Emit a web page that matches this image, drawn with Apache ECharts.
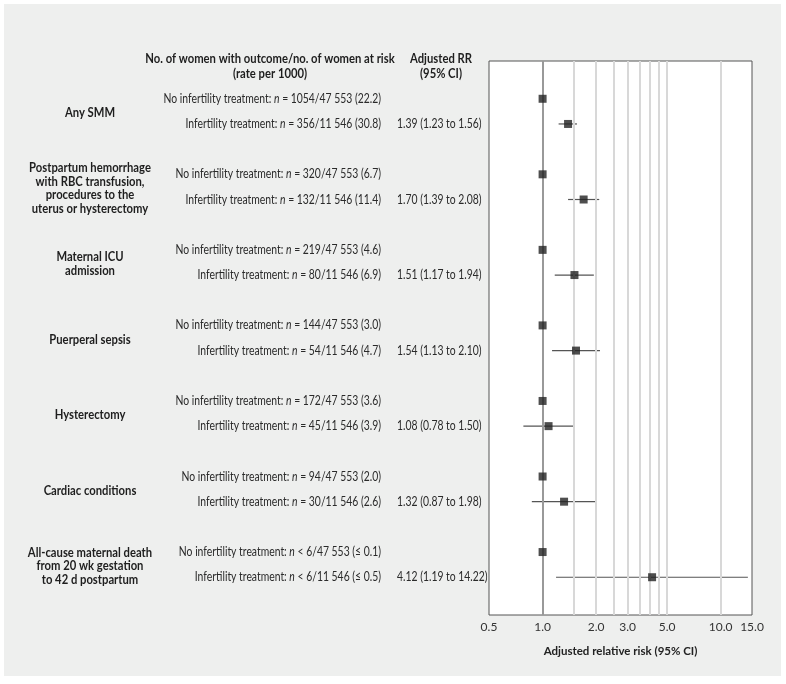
<!DOCTYPE html>
<html>
<head>
<meta charset="utf-8">
<script src="https://cdn.jsdelivr.net/npm/echarts@6/dist/echarts.min.js"></script>
<style>
html,body{margin:0;padding:0;background:#fff;}
#wrap{position:absolute;left:4px;top:4px;width:777px;height:672px;background:#eeefee;}
#chart{position:absolute;left:0;top:0;width:786px;height:684px;}
</style>
</head>
<body>
<div id="wrap"></div>
<div id="chart"></div>
<script>
const outcomes = ['Any SMM',
  'Postpartum hemorrhage\nwith RBC transfusion,\nprocedures to the\nuterus or hysterectomy',
  'Maternal ICU\nadmission',
  'Puerperal sepsis',
  'Hysterectomy',
  'Cardiac conditions',
  'All-cause maternal death\nfrom 20 wk gestation\nto 42 d postpartum'];
const noTreatmentCounts = ['= 1054/47 553 (22.2)', '= 320/47 553 (6.7)', '= 219/47 553 (4.6)', '= 144/47 553 (3.0)', '= 172/47 553 (3.6)', '= 94/47 553 (2.0)', '< 6/47 553 (≤ 0.1)'];
const treatmentCounts = ['= 356/11 546 (30.8)', '= 132/11 546 (11.4)', '= 80/11 546 (6.9)', '= 54/11 546 (4.7)', '= 45/11 546 (3.9)', '= 30/11 546 (2.6)', '< 6/11 546 (≤ 0.5)'];
const referenceRR = [1, 1, 1, 1, 1, 1, 1];
const adjustedRR = [1.39, 1.70, 1.51, 1.54, 1.08, 1.32, 4.12];
const ciLow = [1.23, 1.39, 1.17, 1.13, 0.78, 0.87, 1.19];
const ciHigh = [1.56, 2.08, 1.94, 2.10, 1.50, 1.98, 14.22];
const axisTickValues = [0.5, 1, 2, 3, 5, 10, 15];
const gridValues = [1.5, 2, 2.5, 3, 3.5, 4, 4.5, 5, 10];

const FONT = 'Lato';
const FS = 12.5;      // regular text size
const SX = 0.83;      // horizontal compression of regular text
const FB = 12.5;      // bold text size
const SXB = 0.9;      // horizontal compression of bold text
const rowsNo = outcomes.map((_, i) => 1.5 + 3 * i);
const rowsTx = outcomes.map((_, i) => 2.5 + 3 * i);

const chart = echarts.init(document.getElementById('chart'), null, {renderer: 'canvas'});

const option = {
  backgroundColor: 'transparent',
  animation: false,
  grid: {left: 489, right: 34, top: 61, bottom: 69, show: true, backgroundColor: '#fff', borderColor: '#555', borderWidth: 1},
  xAxis: {
    type: 'log', logBase: 10, min: 0.5, max: 15,
    axisLine: {show: false}, axisTick: {show: false}, splitLine: {show: false},
    axisLabel: {customValues: axisTickValues, formatter: v => Number(v).toFixed(1), color: '#333', fontFamily: FONT, fontSize: 12, margin: 6},
    name: 'Adjusted relative risk (95% CI)', nameLocation: 'middle', nameGap: 30,
    nameTextStyle: {fontFamily: FONT, fontWeight: 'bold', fontSize: 11.5, color: '#222'}
  },
  yAxis: {type: 'value', min: 0, max: 22, inverse: true, show: false},
  series: [
    {
      type: 'line', data: [], silent: true, z: 1,
      markLine: {
        silent: true, symbol: 'none', label: {show: false},
        data: gridValues.map(v => ({xAxis: v})),
        lineStyle: {color: '#d8d8d8', width: 2, type: 'solid'}
      }
    },
    {
      type: 'line', data: [], silent: true, z: 1,
      markLine: {
        silent: true, symbol: 'none', label: {show: false},
        data: [{xAxis: 1}],
        lineStyle: {color: '#999', width: 2, type: 'solid'}
      }
    },
    {
      type: 'custom', silent: true, z: 3,
      data: adjustedRR.map((v, i) => [ciLow[i], ciHigh[i], rowsTx[i]]),
      renderItem: (params, api) => {
        const a = api.coord([api.value(0), api.value(2)]);
        const b = api.coord([api.value(1), api.value(2)]);
        return {type: 'line', shape: {x1: a[0], y1: a[1], x2: b[0], y2: b[1]}, style: {stroke: '#555', lineWidth: 1.2}};
      },
      encode: {x: [0, 1], y: 2}
    },
    {
      type: 'scatter', symbol: 'rect', symbolSize: 8, silent: true, z: 5,
      itemStyle: {color: '#222'},
      data: referenceRR.map((v, i) => [v, rowsNo[i]])
    },
    {
      type: 'scatter', symbol: 'rect', symbolSize: 8, silent: true, z: 5,
      itemStyle: {color: '#222'},
      data: adjustedRR.map((v, i) => [v, rowsTx[i]])
    },
    {
      type: 'custom', silent: true, clip: false,
      data: outcomes.map((o, i) => [rowsNo[i], rowsTx[i]]),
      encode: {y: [0, 1]},
      renderItem: (params, api) => {
        const i = params.dataIndex;
        const yNo = api.coord([1, api.value(0)])[1];
        const yTx = api.coord([1, api.value(1)])[1];
        const rich = {i: {fontStyle: 'italic', fontFamily: FONT, fontSize: FS, fill: '#2a2a2a'}};
        const base = {fontFamily: FONT, fontSize: FS, fill: '#2a2a2a', x: 0, y: 0, verticalAlign: 'middle'};
        return {type: 'group', children: [
          {type: 'text', x: 90, y: (yNo + yTx) / 2 + 1.5, scaleX: SXB,
            style: {text: outcomes[i], x: 0, y: 0, align: 'center', verticalAlign: 'middle', fontFamily: FONT, fontSize: FB, fontWeight: 'bold', fill: '#1e1e1e', lineHeight: 13.5}},
          {type: 'text', x: 381, y: yNo, scaleX: SX,
            style: Object.assign({}, base, {text: 'No infertility treatment: {i|n} ' + noTreatmentCounts[i], align: 'right', rich: rich})},
          {type: 'text', x: 381, y: yTx, scaleX: SX,
            style: Object.assign({}, base, {text: 'Infertility treatment: {i|n} ' + treatmentCounts[i], align: 'right', rich: rich})},
          {type: 'text', x: 397, y: yTx, scaleX: SX,
            style: Object.assign({}, base, {text: adjustedRR[i].toFixed(2) + ' (' + ciLow[i].toFixed(2) + ' to ' + ciHigh[i].toFixed(2) + ')', align: 'left'})}
        ]};
      }
    }
  ],
  graphic: [
    {type: 'text', x: 270, y: 51, scaleX: SXB, style: {text: 'No. of women with outcome/no. of women at risk\n(rate per 1000)', x: 0, y: 0, align: 'center', verticalAlign: 'top', fontFamily: FONT, fontSize: FB, fontWeight: 'bold', fill: '#1e1e1e', lineHeight: 15}},
    {type: 'text', x: 441, y: 51, scaleX: SXB, style: {text: 'Adjusted RR\n(95% CI)', x: 0, y: 0, align: 'center', verticalAlign: 'top', fontFamily: FONT, fontSize: FB, fontWeight: 'bold', fill: '#1e1e1e', lineHeight: 15}}
  ]
};
chart.setOption(option);
</script>
</body>
</html>
